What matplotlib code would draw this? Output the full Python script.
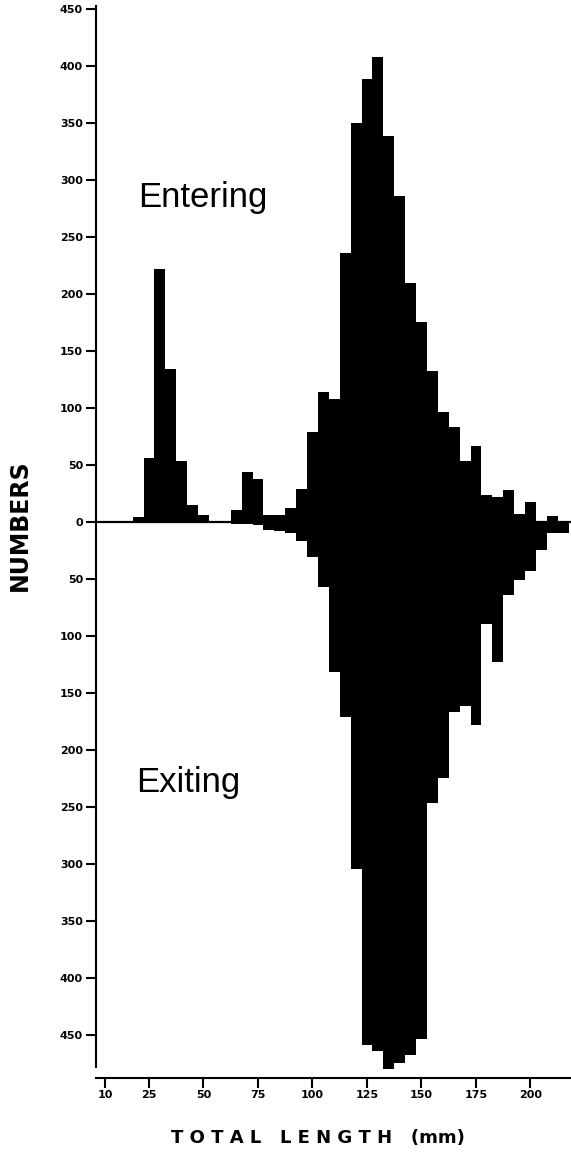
import matplotlib
matplotlib.use("Agg")
import matplotlib.pyplot as plt
import numpy as np

# ---- data (bin centres in mm, counts) ----
length_mm = [20, 25, 30, 35, 40, 45, 50, 55, 60, 65, 70, 75, 80, 85, 90, 95,
             100, 105, 110, 115, 120, 125, 130, 135, 140, 145, 150, 155, 160,
             165, 170, 175, 180, 185, 190, 195, 200, 205, 210, 215]
entering = [4, 56, 222, 134, 53, 15, 6, 0, 0, 10, 44, 37, 6, 6, 12, 29,
            79, 114, 108, 236, 350, 388, 408, 338, 286, 209, 175, 132, 96,
            83, 53, 66, 23, 22, 28, 7, 17, 0, 5, 0]
exiting = [0, 0, 0, 0, 0, 0, 0, 1, 1, 2, 2, 3, 7, 8, 10, 17,
           31, 57, 132, 171, 305, 459, 464, 480, 475, 468, 454, 247, 225,
           167, 162, 178, 90, 123, 64, 51, 43, 25, 10, 10]

xtick_pos = [5, 25, 50, 75, 100, 125, 150, 175, 200]
xtick_labels = ["10", "25", "50", "75", "100", "125", "150", "175", "200"]
ytick_vals = [-450, -400, -350, -300, -250, -200, -150, -100, -50,
              0, 50, 100, 150, 200, 250, 300, 350, 400, 450]

fig = plt.figure(figsize=(5.71, 11.6), dpi=100)
ax = fig.add_axes([95.6 / 571, 0.0707, (571 - 95.6) / 571, 0.9238])

ax.bar(length_mm, entering, width=5, color="black", edgecolor="none", align="center")
ax.bar(length_mm, [-v for v in exiting], width=5, color="black", edgecolor="none", align="center")
ax.axhline(0, color="black", lw=1.6, zorder=3)

ax.set_xlim(0.5, 218.6)
ax.set_ylim(-488, 452)

for s in ["top", "right"]:
    ax.spines[s].set_visible(False)
ax.spines["left"].set_linewidth(1.5)
ax.spines["bottom"].set_linewidth(1.5)
ax.spines["left"].set_bounds(-478, 452)

ax.set_yticks(ytick_vals)
ax.set_yticklabels([str(abs(v)) for v in ytick_vals])
ax.set_xticks(xtick_pos)
ax.set_xticklabels(xtick_labels)
ax.tick_params(axis="both", direction="out", length=7, width=1.5, pad=2)
for lab in ax.get_yticklabels() + ax.get_xticklabels():
    lab.set_fontfamily("DejaVu Sans")
    lab.set_fontweight("bold")
    lab.set_fontsize(8)

ax.text(20, 276, "Entering", fontsize=25, family="Liberation Sans", ha="left", va="baseline")
ax.text(19, -237, "Exiting", fontsize=25, family="Liberation Sans", ha="left", va="baseline")

fig.text(20 / 571, 1 - 525 / 1160, "NUMBERS", rotation=90, ha="center", va="center",
         fontsize=17, fontweight="bold", family="DejaVu Sans")
fig.text(318 / 571, 1 - 1138 / 1160, "T O T A L   L E N G T H   (mm)", ha="center", va="center",
         fontsize=13, fontweight="bold", family="DejaVu Sans")

fig.savefig("out.png", dpi=100, facecolor="white")
